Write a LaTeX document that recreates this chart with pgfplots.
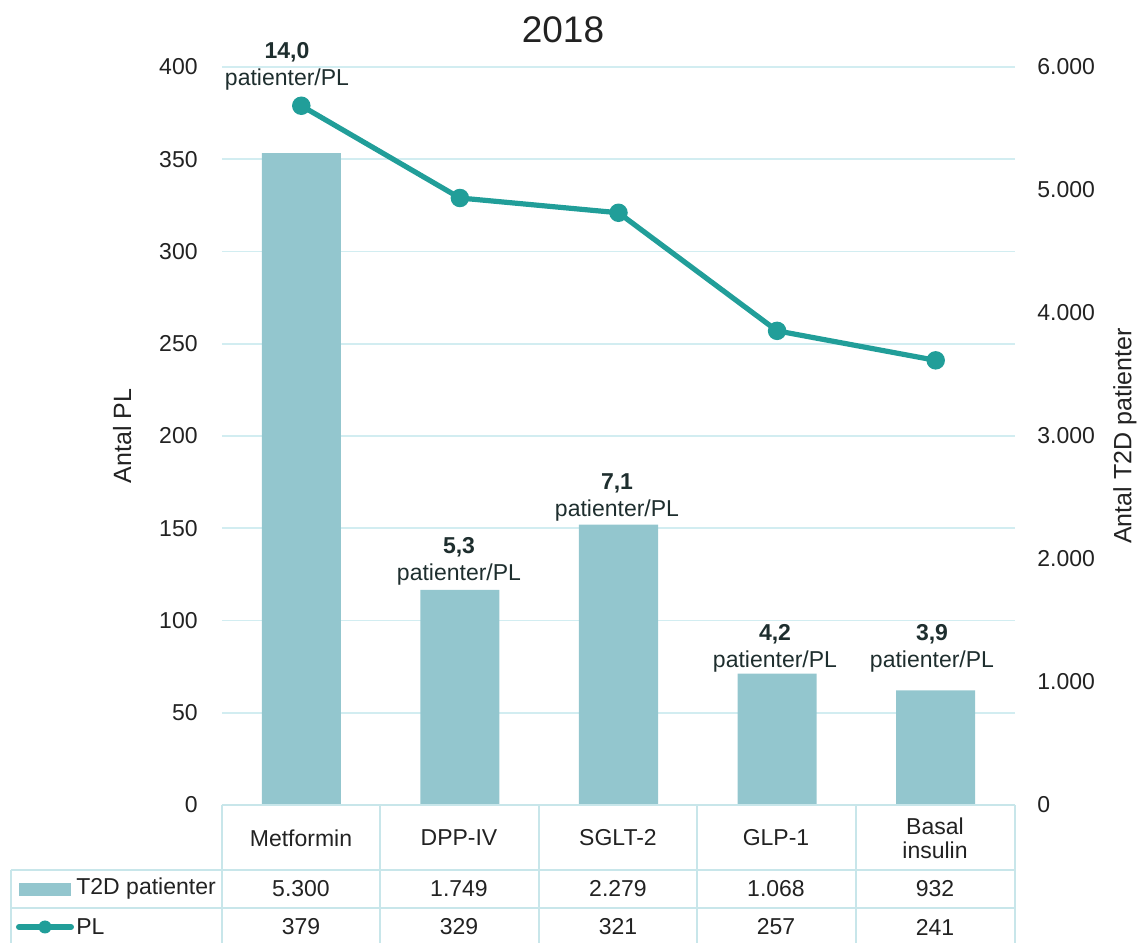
\documentclass[border=0pt]{standalone}
\usepackage{pgfplots}
\pgfplotsset{compat=1.18}
\usepackage{fontspec}
\setmainfont{Liberation Sans}
\definecolor{barc}{HTML}{93C6CE}
\definecolor{linec}{HTML}{219E99}
\definecolor{gridc}{HTML}{D2EDF1}
\definecolor{tabc}{HTML}{C8E6EA}
\definecolor{txt}{HTML}{222222}
\definecolor{lab}{HTML}{1E2E2E}
\newcommand{\fs}{\fontsize{11.5}{13}\selectfont}
\begin{document}
\begin{tikzpicture}
\pgfplotsset{
  base/.style={at={(0,0)},anchor=south west,scale only axis,width=396.5pt,height=369pt,
    xmin=-0.5,xmax=4.5,xtick=\empty,axis line style={draw=none},major tick style={draw=none},
    /pgf/number format/assume math mode=true,
    tick label style={font=\fs,text=txt}},
}
% grid + left axis
\begin{axis}[base,ymin=0,ymax=400,ytick={0,50,...,400},ymajorgrids,
  grid style={gridc,line width=0.8pt},
  yticklabel style={anchor=east,inner sep=0pt,xshift=-12pt},
  ylabel={Antal PL},ylabel style={font=\fontsize{12.5}{14}\selectfont,text=txt,at={(axis description cs:-0.126,0.5)},anchor=center,rotate=0}]
\end{axis}
% bars, right axis
\begin{axis}[base,ymin=0,ymax=6000,ytick={0,1000,...,6000},axis y line*=right,
  yticklabel style={anchor=west,inner sep=0pt,xshift=11pt},
  /pgf/number format/.cd,1000 sep={.},/pgfplots/.cd,
  ylabel={Antal T2D patienter},ylabel style={font=\fontsize{12.5}{14}\selectfont,text=txt,at={(axis description cs:1.1387,0.5)},anchor=center,rotate=0},
  ybar,bar width=39.5pt]
\addplot[fill=barc,draw=none] coordinates {(0,5300) (1,1749) (2,2279) (3,1068) (4,932)};
\end{axis}
% line
\begin{axis}[base,ymin=0,ymax=400,ytick=\empty]
\addplot[linec,line width=2.6pt,mark=*,mark size=3.3pt,mark options={fill=linec,draw=linec}]
  coordinates {(0,379) (1,329) (2,321) (3,257) (4,241)};
\end{axis}
\begin{scope}[shift={(-111pt,402.5pt)},x=0.5pt,y=-0.5pt]
% title
\node[font=\fontsize{18.5}{20}\selectfont,text=txt] at (563,30) {2018};
% data labels
\foreach \xx/\yy/\v in {287/52/{14,0},459/547/{5,3},617/483/{7,1},775/634/{4,2},932/634/{3,9}}{
  \node[font=\fs\bfseries,text=lab] at (\xx,\yy) {\v};
  \node[font=\fs,text=lab] at (\xx,\yy+28) {patienter/PL};
}
% table
\draw[tabc,line width=0.8pt] (222,805) -- (1015,805);
\draw[tabc,line width=0.8pt] (11,870) -- (1015,870);
\draw[tabc,line width=0.8pt] (11,908) -- (1015,908);
\foreach \xx in {222,380,539,697,856,1015}{\draw[tabc,line width=0.8pt] (\xx,805) -- (\xx,943);}
\draw[tabc,line width=0.8pt] (11,870) -- (11,943);
% categories
\foreach \xx/\c in {301/Metformin,459/DPP-IV,618/SGLT-2,776/GLP-1}{
  \node[font=\fs,text=txt] at (\xx,838) {\c};}
\node[font=\fs,text=txt,align=center] at (935,838) {Basal\\[-1pt]insulin};
\foreach \xx/\v in {301/5.300,459/1.749,618/2.279,776/1.068,935/932}{
  \node[font=\fs,text=txt] at (\xx,889) {\v};}
\foreach \xx/\v in {301/379,459/329,618/321,776/257,935/241}{
  \node[font=\fs,text=txt] at (\xx,927) {\v};}
% legend
\fill[barc] (19,883) rectangle (71,896);
\node[font=\fs,text=txt,anchor=west,inner sep=0pt] at (76,889) {T2D patienter};
\draw[linec,line width=3pt,line cap=round] (19,927) -- (71,927);
\fill[linec] (45,927) circle (6.5);
\node[font=\fs,text=txt,anchor=west,inner sep=0pt] at (76,927) {PL};
\end{scope}
\pgfresetboundingbox
\begin{scope}[shift={(-111pt,402.5pt)},x=0.5pt,y=-0.5pt]
\path[use as bounding box] (0,0) rectangle (1137,943);
\end{scope}
\end{tikzpicture}
\end{document}
